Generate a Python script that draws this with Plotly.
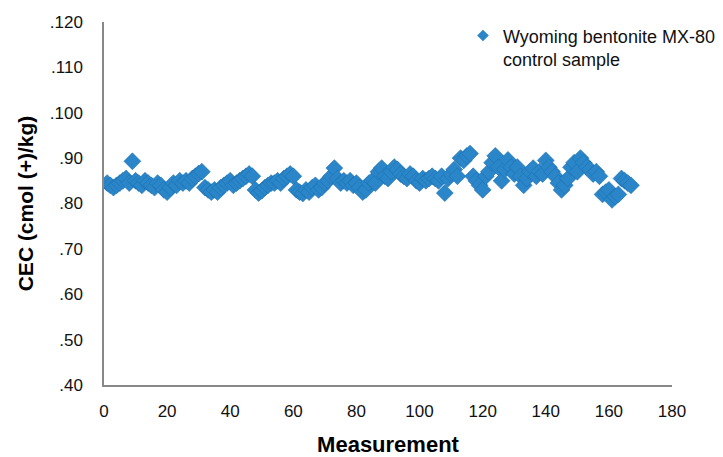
import plotly.graph_objects as go

# CEC of the Wyoming bentonite MX-80 control sample, one value per measurement
measurement = list(range(1, 168))
cec = [
    0.845, 0.84, 0.835, 0.84, 0.845, 0.85, 0.855, 0.845, 0.893, 0.85,
    0.845, 0.84, 0.85, 0.845, 0.84, 0.835, 0.845, 0.84, 0.83, 0.825,
    0.835, 0.845, 0.84, 0.85, 0.845, 0.85, 0.845, 0.855, 0.86, 0.866,
    0.87, 0.835, 0.83, 0.825, 0.83, 0.825, 0.835, 0.84, 0.845, 0.85,
    0.84, 0.845, 0.85, 0.855, 0.86, 0.865, 0.86, 0.83, 0.823, 0.828,
    0.835, 0.84, 0.845, 0.845, 0.85, 0.845, 0.855, 0.86, 0.865, 0.86,
    0.83, 0.825, 0.822, 0.83, 0.825, 0.835, 0.84, 0.83, 0.835, 0.845,
    0.85, 0.86, 0.878, 0.855, 0.845, 0.85, 0.845, 0.85, 0.84, 0.845,
    0.835, 0.825, 0.83, 0.845, 0.85, 0.845, 0.87, 0.878, 0.86, 0.855,
    0.87, 0.88, 0.875, 0.865, 0.86, 0.855, 0.865, 0.86, 0.85, 0.845,
    0.855, 0.85, 0.855, 0.86, 0.855, 0.85, 0.86, 0.823, 0.855, 0.865,
    0.875, 0.86, 0.9, 0.895, 0.905, 0.91, 0.86, 0.85, 0.84, 0.83,
    0.86, 0.87, 0.89, 0.905, 0.88, 0.85, 0.875, 0.896, 0.88, 0.865,
    0.88, 0.86, 0.84, 0.855, 0.87, 0.878, 0.86, 0.87, 0.865, 0.895,
    0.88, 0.87, 0.86, 0.845, 0.83, 0.84, 0.855, 0.88, 0.89, 0.87,
    0.9, 0.89, 0.88, 0.875, 0.865, 0.87, 0.86, 0.82, 0.825, 0.83,
    0.808, 0.815, 0.82, 0.855, 0.85, 0.845, 0.84,
]

y_ticks = [0.4, 0.5, 0.6, 0.7, 0.8, 0.9, 1.0, 1.1, 1.2]
y_tick_labels = [".40", ".50", ".60", ".70", ".80", ".90", ".100", ".110", ".120"]
x_ticks = list(range(0, 181, 20))

SERIES_NAME = "Wyoming bentonite MX-80<br>control sample"
FONT = "Liberation Sans, Arial, sans-serif"
BLUE = "#2a86c8"

fig = go.Figure()
fig.add_trace(go.Scatter(
    x=measurement,
    y=cec,
    mode="markers",
    name=SERIES_NAME,
    legendgroup="mx80",
    showlegend=False,
    marker=dict(symbol="diamond", size=13, color=BLUE,
                line=dict(width=0.6, color="#1c70b0")),
))
# legend entry with a smaller key symbol
fig.add_trace(go.Scatter(
    x=[None],
    y=[None],
    mode="markers",
    name=SERIES_NAME,
    legendgroup="mx80",
    marker=dict(symbol="diamond", size=9, color=BLUE),
))

fig.update_layout(
    width=723,
    height=457,
    margin=dict(l=104, r=51, t=22, b=72, autoexpand=False),
    paper_bgcolor="white",
    plot_bgcolor="white",
    font=dict(family=FONT, size=17, color="#111111"),
    showlegend=True,
    legend=dict(
        x=0.632, y=1.013, xanchor="left", yanchor="top",
        font=dict(family=FONT, size=18, color="#111111"),
        bgcolor="rgba(0,0,0,0)",
        valign="top",
        itemwidth=30,
        itemsizing="trace",
        tracegroupgap=0,
    ),
    xaxis=dict(
        range=[0, 180],
        tickvals=x_ticks,
        showgrid=False,
        zeroline=False,
        showline=True,
        linecolor="#888888",
        linewidth=1.5,
        ticks="",
        ticklabelstandoff=10,
        tickfont=dict(size=17),
        automargin=False,
        title=dict(text="<b>Measurement</b>", font=dict(size=22, color="#000000"), standoff=22),
    ),
    yaxis=dict(
        range=[0.4, 1.2],
        tickvals=y_ticks,
        ticktext=y_tick_labels,
        showgrid=False,
        zeroline=False,
        showline=True,
        linecolor="#888888",
        linewidth=1.5,
        ticks="",
        ticklabelstandoff=16,
        tickfont=dict(size=17),
        automargin=False,
        title=dict(text="<b>CEC (cmol (+)/kg)</b>", font=dict(size=21, color="#000000"), standoff=10),
    ),
)

fig.write_html("out.html")
